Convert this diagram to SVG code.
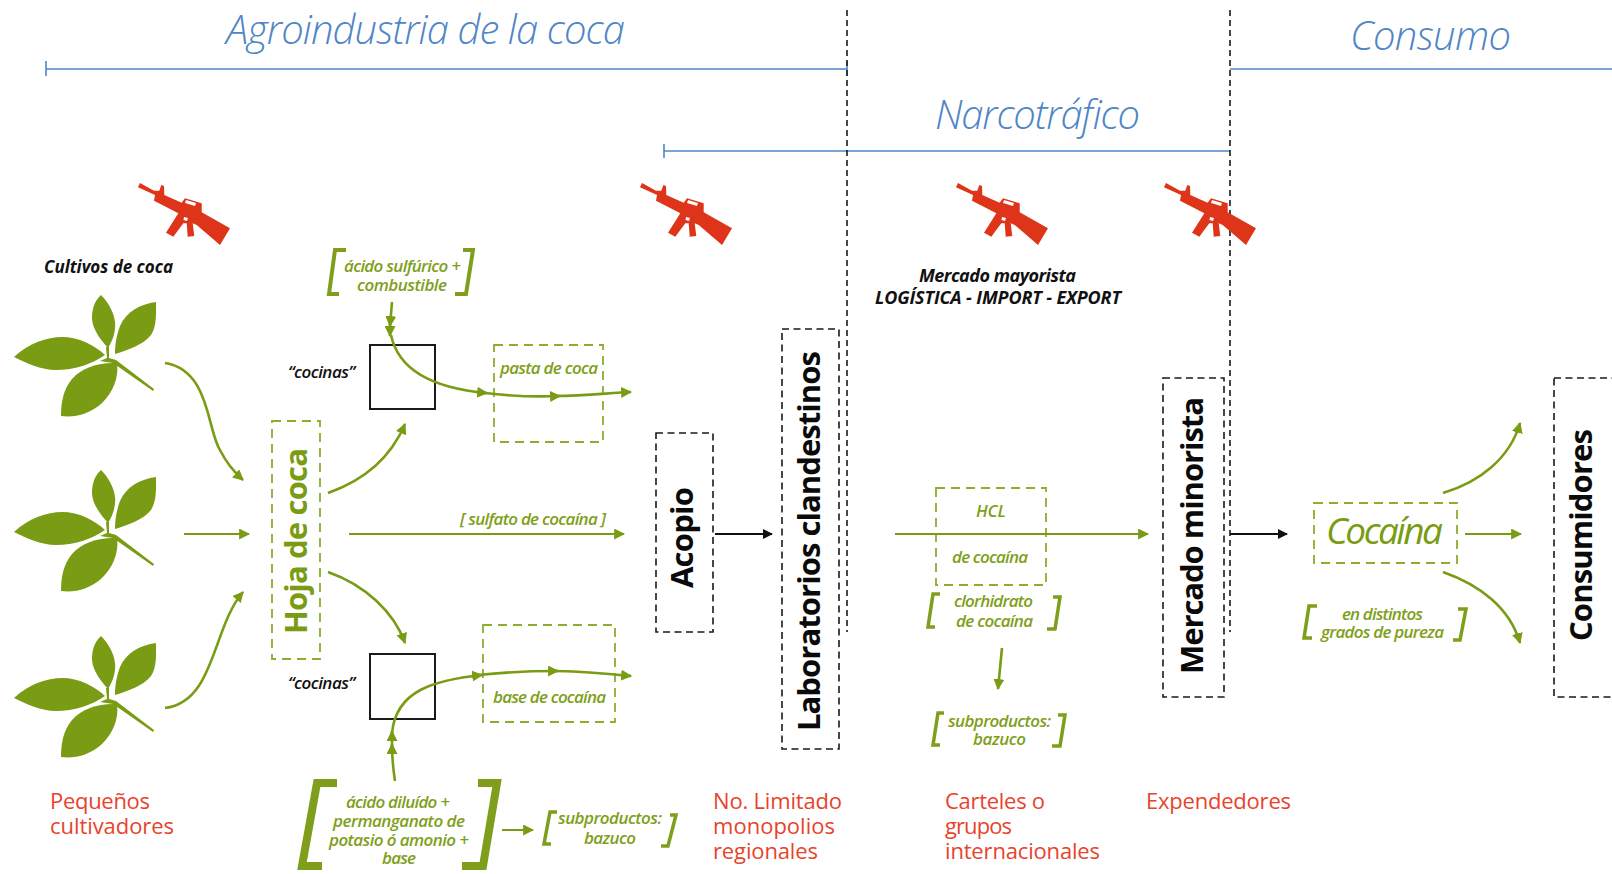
<svg xmlns="http://www.w3.org/2000/svg" xmlns:xlink="http://www.w3.org/1999/xlink" width="1612" height="874" viewBox="0 0 1612 874">
<style>
text{font-family:"Open Sans","Liberation Sans",sans-serif}
.head{font-size:40px;font-style:italic;font-weight:300;fill:#4f86c6}
.bar{stroke:#4f86c6;stroke-width:1.6;fill:none}
.divider{stroke:#1a1a1a;stroke-width:1.6;stroke-dasharray:6 4;fill:none}
.stage{fill:none;stroke:#1a1a1a;stroke-width:1.6;stroke-dasharray:7 4.5}
.title{font-size:31px;font-weight:700;fill:#0a0a0a}
.gbox{fill:none;stroke:#8aae2e;stroke-width:1.8;stroke-dasharray:9 6}
.kitchen{fill:none;stroke:#1a1a1a;stroke-width:2}
.g{font-size:17px;font-style:italic;font-weight:600;fill:#7f9f1c}
.k{font-size:17px;font-style:italic;font-weight:600;fill:#111}
.m{font-size:18px;font-style:italic;font-weight:700;fill:#111}
.red{font-size:22px;fill:#e8432c}
.brk{fill:none;stroke:#7f9f1c}
.flow{fill:none;stroke:#7a9c14;stroke-width:2.6}
.thin{fill:none;stroke:#7a9c14;stroke-width:2}
.bflow{fill:none;stroke:#111;stroke-width:1.8}
.leaf{fill:#7a9b14}
.gun{fill:#de3419}
</style>
<defs>
<marker id="ah" viewBox="0 0 10 10" refX="9" refY="5" markerWidth="11" markerHeight="11" markerUnits="userSpaceOnUse" orient="auto"><path d="M0,0L10,5L0,10z" fill="#7a9c14"/></marker>
<marker id="ak" viewBox="0 0 10 10" refX="9" refY="5" markerWidth="10" markerHeight="10" markerUnits="userSpaceOnUse" orient="auto"><path d="M0,0L10,5L0,10z" fill="#111"/></marker>
<g id="leafset">
<path class="leaf" d="M101,295C93,302 92,312 92,319C93,331 102,341 108,348C113,340 116,331 115,322C114,312 108,302 101,295Z"/>
<path class="leaf" d="M156,302C140,304 126,312 120,326C116,337 115,346 115,354C128,350 143,345 151,335C157,326 156,312 156,302Z"/>
<path class="leaf" d="M14,357C29,343 47,337 62,337C79,337 94,345 105,355C92,364 74,370 56,370C41,370 26,363 14,357Z"/>
<path class="leaf" d="M117,363C100,362 82,367 72,379C63,390 61,403 61,416C74,418 90,414 102,403C113,392 119,378 117,363Z"/>
<path class="leaf" d="M106,347L109,347L109,358L116,360L154,389L153,391L113,363L100,361L107,358Z"/>
</g>
<g id="gunshape">
<path class="gun" fill-rule="evenodd" d="M140,183L154,190.7L159.3,190.7L161.3,185L164,186L164.3,195L181.7,202.7L185,198.3L201.7,203.3L201.7,212.3L230,228.3L220,245L196.7,225L192.7,223.3L194.3,236L187.7,236.7L186.7,223.3L183.3,223.3L173.3,236.7L166,232.7L178.3,213.3L166.7,207.3L154,200.7L155,195L138,187.3ZM184,217L188,218L187,221L183.5,220Z"/>
<path fill="#fff" d="M186,200L196,203L195,206L185,203Z"/>
</g>
</defs>

<g id="phase-bars">
<text class="head" x="226" y="44" textLength="399">Agroindustria de la coca</text>
<text class="head" x="935" y="129" textLength="205">Narcotráfico</text>
<text class="head" x="1350" y="50" textLength="161">Consumo</text>
<path class="bar" d="M46,69H847M46,61V76M847,61V76M664,151H1230M664,144V158M1230,69H1612"/>
<path class="divider" d="M847,10V632M1230,10V632"/>
</g>

<g id="guns">
<use href="#gunshape"/>
<use href="#gunshape" x="502"/>
<use href="#gunshape" x="818"/>
<use href="#gunshape" x="1026"/>
</g>

<g id="crops">
<text x="44" y="273" textLength="129" style="font-size:17px;font-style:italic;font-weight:700;fill:#111">Cultivos de coca</text>
<use href="#leafset"/>
<use href="#leafset" y="175"/>
<use href="#leafset" y="341"/>
<text class="red" x="50" y="809" textLength="100">Pequeños</text>
<text class="red" x="50" y="834" textLength="124">cultivadores</text>
</g>

<g id="hoja">
<rect class="gbox" x="272" y="421" width="48" height="238"/>
<text transform="translate(307,634) rotate(-90)" textLength="186" style="font-size:31px;font-weight:700;fill:#7a9c14">Hoja de coca</text>
</g>

<g id="cocina-1">
<rect class="kitchen" x="370" y="345" width="65" height="64"/>
<text class="k" x="288" y="378" textLength="67">“cocinas”</text>
</g>
<g id="cocina-2">
<rect class="kitchen" x="370" y="654" width="65" height="65"/>
<text class="k" x="288" y="689" textLength="67">“cocinas”</text>
</g>

<g id="reactivos-1">
<path class="brk" stroke-width="4" d="M346,250H335L329,294H339M463,250H473L466,294H455"/>
<text class="g" x="344" y="272" textLength="117">ácido sulfúrico +</text>
<text class="g" x="357" y="291" textLength="90">combustible</text>
</g>
<g id="pasta">
<rect class="gbox" x="494" y="345" width="109" height="97"/>
<text class="g" x="500" y="374" textLength="98">pasta de coca</text>
</g>
<g id="sulfato">
<text class="g" x="460" y="525" textLength="146">[ sulfato de cocaína ]</text>
</g>
<g id="base">
<rect class="gbox" x="483" y="625" width="132" height="97"/>
<text class="g" x="493" y="703" textLength="113">base de cocaína</text>
</g>
<g id="reactivos-2">
<path class="brk" stroke-width="8" d="M337,783H317L302,866H322M478,783H497L483,866H462"/>
<text class="g" x="346" y="808" textLength="104">ácido diluído +</text>
<text class="g" x="333" y="827" textLength="132">permanganato de</text>
<text class="g" x="329" y="846" textLength="140">potasio ó amonio +</text>
<text class="g" x="382" y="864" textLength="34">base</text>
</g>
<g id="subproductos-1">
<path class="brk" stroke-width="3.5" d="M557,812H550L544,844H551M670,815H676L668,846H661"/>
<text class="g" x="558" y="824" textLength="104">subproductos:</text>
<text class="g" x="584" y="844" textLength="52">bazuco</text>
</g>

<g id="acopio">
<rect class="stage" x="656" y="433" width="57" height="199"/>
<text class="title" transform="translate(693,588) rotate(-90)" textLength="101">Acopio</text>
</g>
<g id="laboratorios">
<rect class="stage" x="782" y="329" width="57" height="420"/>
<text class="title" transform="translate(819.5,731) rotate(-90)" textLength="380">Laboratorios clandestinos</text>
<text class="red" x="713" y="809" textLength="129">No. Limitado</text>
<text class="red" x="713" y="834" textLength="122">monopolios</text>
<text class="red" x="713" y="859" textLength="105">regionales</text>
</g>

<g id="mayorista">
<text class="m" x="919" y="282" textLength="157">Mercado mayorista</text>
<text class="m" x="875" y="304" textLength="246">LOGÍSTICA - IMPORT - EXPORT</text>
</g>
<g id="hcl">
<rect class="gbox" x="936" y="488" width="110" height="97"/>
<text class="g" x="976" y="517" textLength="30">HCL</text>
<text class="g" x="952" y="563" textLength="76">de cocaína</text>
</g>
<g id="clorhidrato">
<path class="brk" stroke-width="3.5" d="M940,594H933L928,627H935M1053,597H1060L1055,629H1047"/>
<text class="g" x="954" y="607" textLength="79">clorhidrato</text>
<text class="g" x="956" y="627" textLength="77">de cocaína</text>
</g>
<g id="subproductos-2">
<path class="brk" stroke-width="3.5" d="M944,713H938L933,745H940M1058,715H1065L1060,746H1052"/>
<text class="g" x="948" y="727" textLength="103">subproductos:</text>
<text class="g" x="973" y="745" textLength="53">bazuco</text>
</g>
<g id="carteles">
<text class="red" x="945" y="809" textLength="100">Carteles o</text>
<text class="red" x="945" y="834" textLength="67">grupos</text>
<text class="red" x="945" y="859" textLength="155">internacionales</text>
</g>

<g id="minorista">
<rect class="stage" x="1163" y="378" width="61" height="319"/>
<text class="title" transform="translate(1203,674) rotate(-90)" textLength="277">Mercado minorista</text>
<text class="red" x="1146" y="809" textLength="145">Expendedores</text>
</g>
<g id="cocaina">
<rect class="gbox" x="1314" y="503" width="143" height="60"/>
<text x="1326" y="544" textLength="117" style="font-size:37px;font-style:italic;font-weight:500;fill:#7a9c14">Cocaína</text>
</g>
<g id="pureza">
<path class="brk" stroke-width="3.5" d="M1317,606H1309L1304,638H1312M1458,609H1466L1460,640H1453"/>
<text class="g" x="1342" y="620" textLength="81">en distintos</text>
<text class="g" x="1321" y="638" textLength="123">grados de pureza</text>
</g>
<g id="consumidores">
<rect class="stage" x="1554" y="378" width="70" height="319"/>
<text class="title" transform="translate(1591.5,641) rotate(-90)" textLength="212">Consumidores</text>
</g>

<g id="connectors">
<path class="flow" marker-end="url(#ah)" d="M165,363C210,370 207,430 220,450C226,462 234,472 243,480"/>
<path class="thin" marker-end="url(#ah)" d="M184,534H249"/>
<path class="flow" marker-end="url(#ah)" d="M165,708C215,702 212,628 243,592"/>
<path class="flow" marker-end="url(#ah)" d="M328,493C365,480 391,457 405,424"/>
<path class="thin" marker-end="url(#ah)" d="M349,534H624"/>
<path class="flow" marker-end="url(#ah)" d="M328,572C365,585 394,612 405,643"/>
<path class="flow" marker-end="url(#ah)" d="M392,302L390,326"/>
<path class="flow" marker-end="url(#ah)" d="M390,320V336"/>
<path class="flow" marker-end="url(#ah)" d="M391,335C398,368 430,388 487,393"/>
<path class="flow" marker-end="url(#ah)" d="M485,393C510,396 535,397 560,396"/>
<path class="flow" marker-end="url(#ah)" d="M555,396C585,396 608,393 631,392"/>
<path class="flow" marker-end="url(#ah)" d="M395,781C393,768 392,755 392,744"/>
<path class="flow" marker-end="url(#ah)" d="M392,746V731"/>
<path class="flow" marker-end="url(#ah)" d="M392,733C396,690 435,680 482,675"/>
<path class="flow" marker-end="url(#ah)" d="M478,675C505,672 530,671 558,671"/>
<path class="flow" marker-end="url(#ah)" d="M553,671C580,671 608,674 631,676"/>
<path class="thin" marker-end="url(#ah)" d="M502,830H533"/>
<path class="thin" marker-end="url(#ah)" d="M895,534H1148"/>
<path class="flow" marker-end="url(#ah)" d="M1002,648L998,689"/>
<path class="thin" marker-end="url(#ah)" d="M1465,534H1521"/>
<path class="flow" marker-end="url(#ah)" d="M1443,493C1480,482 1510,458 1520,423"/>
<path class="flow" marker-end="url(#ah)" d="M1443,572C1480,585 1510,608 1520,643"/>
<path class="bflow" marker-end="url(#ak)" d="M715,534H772"/>
<path class="bflow" marker-end="url(#ak)" d="M1230,534H1287"/>
</g>
</svg>
